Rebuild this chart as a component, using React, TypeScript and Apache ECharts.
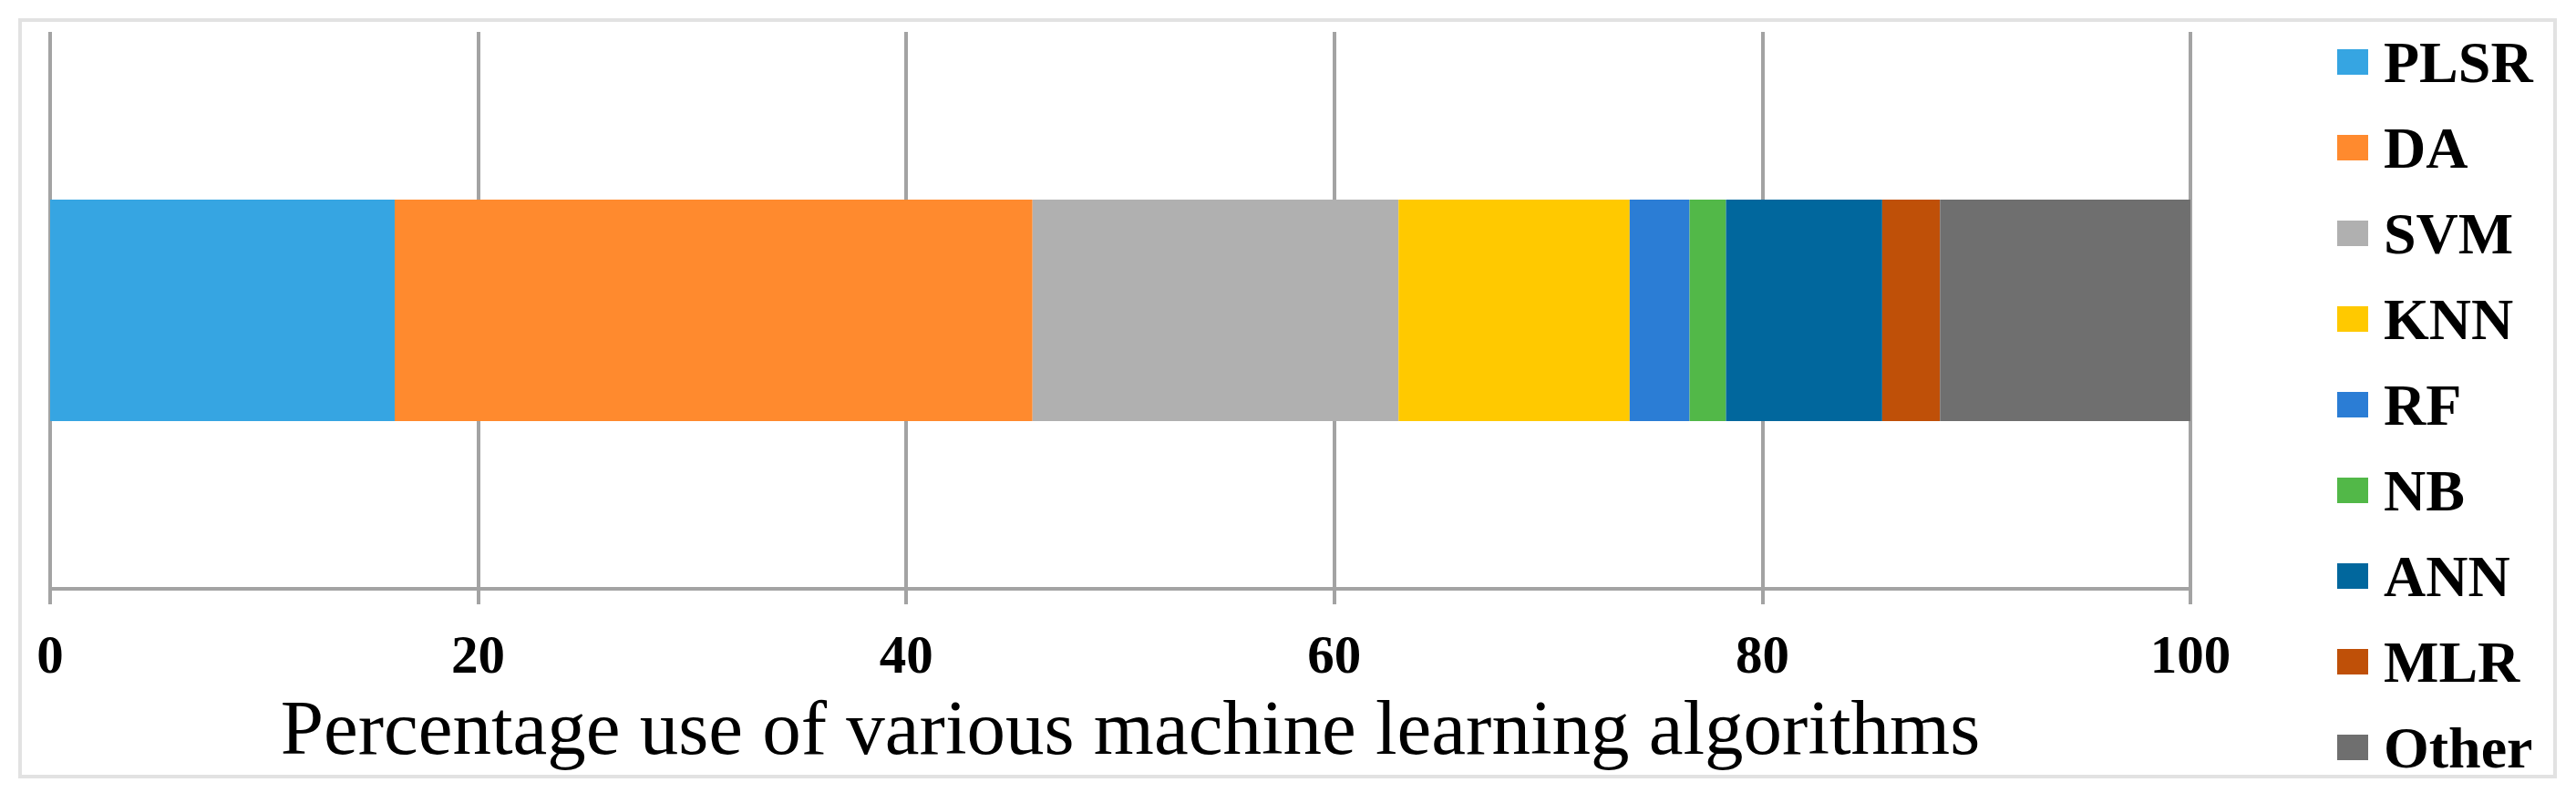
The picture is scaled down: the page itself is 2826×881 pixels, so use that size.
import React, { useEffect, useRef } from "react";
import * as echarts from "echarts";

const categories = ["Usage"];
const seriesNames = ["PLSR", "DA", "SVM", "KNN", "RF", "NB", "ANN", "MLR", "Other"];
const seriesValues = [16.1, 29.8, 17.1, 10.8, 2.8, 1.7, 7.3, 2.7, 11.7];
const seriesColors = [
  "#36A5E2",
  "#FF8A2E",
  "#B0B0B0",
  "#FFC900",
  "#2B7DD5",
  "#52B848",
  "#01679D",
  "#BF5008",
  "#6F6F6F",
];
const xTicks = [0, 20, 40, 60, 80, 100];
const xTitle = "Percentage use of various machine learning algorithms";

const SERIF = '"Liberation Serif", "Times New Roman", serif';
const GRID = "#A3A3A3";

export default function App() {
  const ref = useRef<HTMLDivElement>(null);

  useEffect(() => {
    document.body.style.margin = "0";
    document.body.style.overflow = "hidden";
    if (!ref.current) return;
    const chart = echarts.init(ref.current, null, { renderer: "svg" });

    const series = seriesNames.map((name, i) => ({
      name,
      type: "bar",
      stack: "total",
      barWidth: 243,
      itemStyle: { color: seriesColors[i] },
      emphasis: { disabled: true },
      data: [seriesValues[i]],
    }));

    chart.setOption({
      animation: false,
      backgroundColor: "#FFFFFF",
      grid: { left: 55, right: 423, top: 35, bottom: 235, containLabel: false },
      xAxis: {
        type: "value",
        min: xTicks[0],
        max: xTicks[xTicks.length - 1],
        interval: 20,
        axisLine: { show: true, lineStyle: { color: GRID, width: 4 } },
        axisTick: { show: true, length: 17, lineStyle: { color: GRID, width: 4 } },
        splitLine: { show: true, lineStyle: { color: GRID, width: 4 } },
        axisLabel: {
          margin: 42,
          color: "#000",
          fontFamily: SERIF,
          fontWeight: "bold",
          fontSize: 59,
        },
        name: xTitle,
        nameLocation: "middle",
        nameGap: 109,
        nameTextStyle: {
          color: "#000",
          fontFamily: SERIF,
          fontSize: 85,
          padding: [0, 0, 0, 22],
        },
      },
      yAxis: {
        type: "category",
        data: categories,
        axisLine: { show: false },
        axisTick: { show: false },
        axisLabel: { show: false },
        splitLine: { show: false },
      },
      legend: {
        orient: "vertical",
        left: 2564,
        top: 36,
        padding: 0,
        itemWidth: 34,
        itemHeight: 28,
        itemGap: 30,
        icon: "rect",
        selectedMode: false,
        data: seriesNames,
        textStyle: {
          color: "#000",
          fontFamily: SERIF,
          fontWeight: "bold",
          fontSize: 64,
          padding: [0, 0, 0, 12],
        },
      },
      graphic: [
        {
          type: "rect",
          shape: { x: 22, y: 22, width: 2781, height: 830 },
          style: { fill: "none", stroke: "#E2E2E2", lineWidth: 4 },
          silent: true,
          z: -1,
        },
      ],
      series,
    });

    return () => chart.dispose();
  }, []);

  return <div ref={ref} style={{ width: 2826, height: 881 }} />;
}
